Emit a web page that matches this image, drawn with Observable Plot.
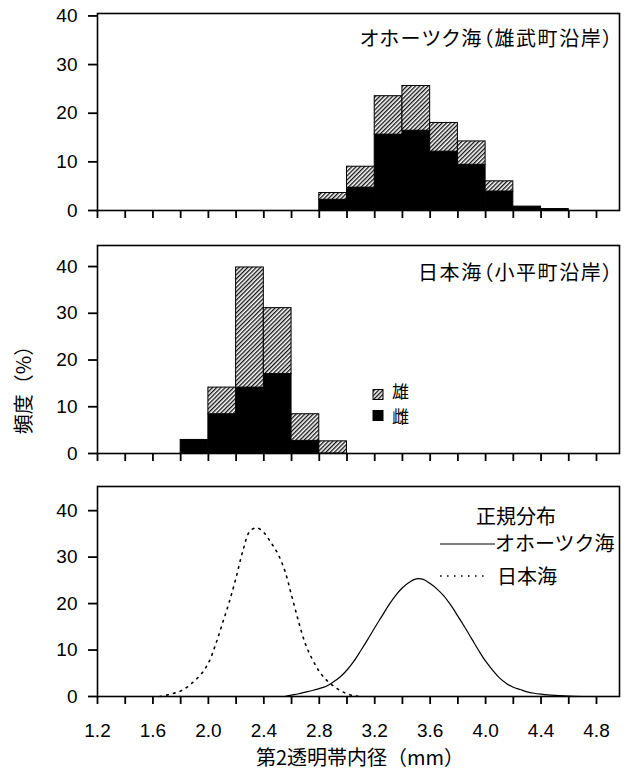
<!DOCTYPE html>
<html><head><meta charset="utf-8">
<script src="https://cdn.jsdelivr.net/npm/d3@7"></script>
<script src="https://cdn.jsdelivr.net/npm/@observablehq/plot@0.6"></script>
<style>
body{margin:0;background:#fff;}
#chart{position:relative;width:626px;height:778px;overflow:hidden;background:#fff;}
#chart > svg{display:block;}
.t{position:absolute;font-family:"Noto Sans CJK JP",sans-serif;font-size:20px;line-height:20px;white-space:nowrap;color:#000;}
.title{font-feature-settings:"palt";letter-spacing:1.6px;}
</style></head><body>
<svg width="0" height="0" style="position:absolute">
<defs><pattern id="hatch" patternUnits="userSpaceOnUse" width="3" height="3" patternTransform="rotate(45)">
<rect width="3" height="3" fill="white"/><line x1="0.7" y1="0" x2="0.7" y2="3" stroke="black" stroke-width="1.25"/></pattern></defs></svg>
<div id="chart"></div>
<script>
// ---- data ----
const xTicks = [1.2,1.4,1.6,1.8,2.0,2.2,2.4,2.6,2.8,3.0,3.2,3.4,3.6,3.8,4.0,4.2,4.4,4.6,4.8];
const xTickLabels = ["1.2","1.6","2.0","2.4","2.8","3.2","3.6","4.0","4.4","4.8"];
const yTicks = [0,10,20,30,40];
const binWidth = 0.2;

const okhotskTitle = "オホーツク海（雄武町沿岸）";
const okhotskBins   = [2.8,3.0,3.2,3.4,3.6,3.8,4.0,4.2,4.4];
const okhotskFemale = [2.2,4.7,15.6,16.4,12.1,9.4,3.9,0.8,0.3];
const okhotskMale   = [1.4,4.3,7.9,9.2,5.9,4.8,2.1,0,0];

const japanTitle = "日本海（小平町沿岸）";
const japanBins   = [1.8,2.0,2.2,2.4,2.6,2.8];
const japanFemale = [2.9,8.4,14.1,17.0,2.7,0];
const japanMale   = [0,5.7,25.7,14.1,5.7,2.6];

const sexLabels = ["雄","雌"];

const normOkhotskX = [2.55,2.60,2.65,2.70,2.75,2.80,2.85,2.90,2.95,3.00,3.05,3.10,3.15,3.20,3.25,3.30,3.35,3.40,3.45,3.50,3.55,3.60,3.65,3.70,3.75,3.80,3.85,3.90,3.95,4.00,4.05,4.10,4.15,4.20,4.25,4.30,4.35,4.40,4.45,4.50,4.60,4.70];
const normOkhotskY = [0,0.3,0.6,0.95,1.3,1.7,2.2,3.1,4.2,5.7,7.6,9.9,12.3,14.8,17.2,19.6,21.7,23.4,24.6,25.3,25.2,24.3,23.1,21.6,19.6,17.3,14.9,12.4,9.9,7.6,5.7,4.0,2.8,2.0,1.5,1.0,0.7,0.5,0.35,0.25,0.1,0];
const normJapanX = [1.65,1.70,1.75,1.80,1.85,1.90,1.95,2.00,2.05,2.10,2.15,2.20,2.25,2.30,2.35,2.40,2.45,2.50,2.55,2.60,2.65,2.70,2.75,2.80,2.85,2.90,2.95,3.00,3.05,3.10];
const normJapanY = [0,0.3,0.7,1.2,2.1,3.4,4.9,7.2,11.0,15.6,20.3,25.6,31.5,35.6,36.3,35.3,33.2,30.8,27.2,21.8,16.2,11.3,8.0,5.4,3.6,2.3,1.3,0.6,0.15,0];
const normTitle = "正規分布";
const normSeries = ["オホーツク海","日本海"];
const xTitle = "第2透明帯内径（mm）";
const yTitle = "頻度（%）";

// ---- helpers ----
const labelSet = new Set(xTickLabels);
const fmt = d => { const s = d.toFixed(1); return labelSet.has(s) ? s : ""; };

function histRows(bins, female, male) {
  return bins.map((b, i) => ({x1: b, x2: b + binWidth, f: female[i], t: female[i] + male[i], m: male[i]}));
}

function panel({height, marginTop, marginBottom, yMax, marks, showX}) {
  return Plot.plot({
    width: 626, height, marginLeft: 97, marginRight: 7, marginTop, marginBottom,
    style: {fontFamily: "'Liberation Sans', Arial, sans-serif", fontSize: "19px", color: "black", background: "white", overflow: "visible"},
    x: {domain: [1.2, 4.966], axis: null},
    y: {domain: [0, yMax], axis: null},
    marks: [
      ...marks,
      Plot.frame({stroke: "black", strokeWidth: 1.6}),
      Plot.axisX(xTicks, {tickSize: 8, tickPadding: 19, strokeWidth: 1.8, fontSize: 19, tickFormat: showX ? fmt : () => "", label: null}),
      Plot.axisY(yTicks, {tickSize: 9, tickPadding: 11, strokeWidth: 1.8, fontSize: 19, tickFormat: d => String(d), label: null})
    ]
  });
}

function histMarks(rows) {
  return [
    Plot.rect(rows.filter(d => d.f > 0), {x1: "x1", x2: "x2", y1: 0, y2: "f", fill: "black", stroke: "black", strokeWidth: 1}),
    Plot.rect(rows.filter(d => d.m > 0), {x1: "x1", x2: "x2", y1: "f", y2: "t", fill: "url(#hatch)", stroke: "black", strokeWidth: 1})
  ];
}

const chart = document.getElementById("chart");

chart.append(panel({height: 230, marginTop: 13, marginBottom: 20, yMax: 40.5,
  marks: histMarks(histRows(okhotskBins, okhotskFemale, okhotskMale)), showX: false}));

chart.append(panel({height: 240, marginTop: 15, marginBottom: 17, yMax: 44.5,
  marks: histMarks(histRows(japanBins, japanFemale, japanMale)), showX: false}));

const okCurve = normOkhotskX.map((x, i) => ({x, y: normOkhotskY[i]}));
const jpCurve = normJapanX.map((x, i) => ({x, y: normJapanY[i]}));
chart.append(panel({height: 308, marginTop: 16, marginBottom: 82, yMax: 45.2,
  marks: [
    Plot.line(jpCurve, {x: "x", y: "y", stroke: "black", strokeWidth: 1.6, strokeDasharray: "1.6,5.4", curve: "catmull-rom"}),
    Plot.line(okCurve, {x: "x", y: "y", stroke: "black", strokeWidth: 1.2, curve: "catmull-rom"})
  ], showX: true}));

// ---- overlay text & legends ----
function addText(txt, pos, extra = "", cls = "") {
  const d = document.createElement("div");
  d.className = "t " + cls; d.textContent = txt;
  d.style.cssText += pos + extra;
  chart.append(d);
  return d;
}
addText(okhotskTitle, "right:12px;top:28px;", "", "title");
addText(japanTitle, "right:12px;top:262px;", "", "title");
addText(sexLabels[0], "left:392px;top:382px;", "font-size:17px;line-height:17px;");
addText(sexLabels[1], "left:392px;top:407px;", "font-size:17px;line-height:17px;");
addText(normTitle, "left:476px;top:506px;");
addText(normSeries[0], "left:495px;top:533px;");
addText(normSeries[1], "left:497px;top:566px;");
addText(xTitle, "left:360px;top:747px;", "transform:translateX(-50%);");
addText(yTitle, "left:23px;top:385px;", "transform:translate(-50%,-50%) rotate(-90deg);");

const ns = "http://www.w3.org/2000/svg";
const ov = document.createElementNS(ns, "svg");
ov.setAttribute("width", 626); ov.setAttribute("height", 778);
ov.style.cssText = "position:absolute;left:0;top:0;pointer-events:none;";
ov.innerHTML = `
<rect x="373" y="389.5" width="10" height="10" fill="url(#hatch)" stroke="black" stroke-width="1"/>
<rect x="373" y="410.5" width="10" height="10" fill="black" stroke="black" stroke-width="1"/>
<line x1="440" x2="495" y1="544" y2="544" stroke="black" stroke-width="1.2"/>
<line x1="440" x2="488" y1="576" y2="576" stroke="black" stroke-width="1.6" stroke-dasharray="1.6,5.4"/>`;
chart.append(ov);
</script>
</body></html>
